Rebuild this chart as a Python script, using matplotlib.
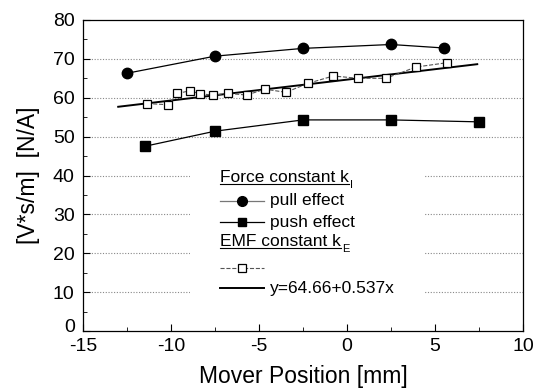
import matplotlib.pyplot as plt
import matplotlib.transforms as mtransforms
from matplotlib.patches import Rectangle
from matplotlib.lines import Line2D

plt.rcParams['font.family'] = ['Liberation Sans', 'DejaVu Sans']
plt.rcParams['axes.unicode_minus'] = False

# data
pull_x = [-12.5, -7.5, -2.5, 2.5, 5.5]
pull_y = [66.3, 70.7, 72.7, 73.7, 72.8]
push_x = [-11.5, -7.5, -2.5, 2.5, 7.5]
push_y = [47.5, 51.4, 54.3, 54.3, 53.8]
emf_x = [-11.35, -10.15, -9.64, -8.92, -8.35, -7.6, -6.74, -5.7, -4.66, -3.47,
         -2.22, -0.78, 0.64, 2.2, 3.92, 5.66]
emf_y = [58.5, 58.2, 61.1, 61.8, 61.0, 60.7, 61.1, 60.7, 62.2, 61.4,
         63.7, 65.6, 65.0, 65.0, 67.9, 69.0]
fit_x = [-13.0, 7.4]
fit_a, fit_b = 64.66, 0.537

fig = plt.figure(figsize=(5.38, 3.9), dpi=100)
ax = fig.add_axes([83 / 538, 59 / 390, 440 / 538, 311 / 390])

for gy in range(10, 80, 10):
    ax.axhline(gy, color='#888888', lw=0.8, ls=(0, (1, 1.5)), zorder=0)

ax.plot(pull_x, pull_y, '-', color='black', lw=0.9, marker='o', ms=7.5, zorder=3)
ax.plot(push_x, push_y, '-', color='black', lw=0.9, marker='s', ms=6.5, zorder=3)
ax.plot(emf_x, emf_y, '--', color='#555555', lw=0.8, marker='s', ms=6.2,
        mfc='white', mec='black', mew=0.9, zorder=3)
ax.plot(fit_x, [fit_a + fit_b * v for v in fit_x], '-', color='black', lw=1.4, zorder=2)

ax.set_xlim(-15, 10)
ax.set_ylim(0, 80)
ax.set_xticks(range(-15, 11, 5))
ax.set_yticks(range(0, 81, 10))
ax.set_xticks([-12.5, -7.5, -2.5, 2.5, 7.5], minor=True)
ax.set_yticks(range(5, 80, 10), minor=True)
ax.tick_params(direction='in', which='both', labelsize=14, top=False, right=False)
ax.tick_params(which='major', length=5)
ax.tick_params(which='minor', length=3)
ax.tick_params(axis='y', which='major', pad=6)
ax.tick_params(axis='x', which='major', pad=5)
for s in ax.spines.values():
    s.set_linewidth(0.9)
ax.set_xlabel('Mover Position [mm]', fontsize=16.5, labelpad=7)
ax.set_ylabel('[V*s/m]  [N/A]', fontsize=16.5, labelpad=9)

# the "0" on the y axis sits a little higher, clear of "-15"
zero_lbl = ax.get_yticklabels()[0]
zero_lbl.set_transform(zero_lbl.get_transform() +
                       mtransforms.ScaledTranslation(0, 6 / 100, fig.dpi_scale_trans))


# manual legend in pixel coordinates of the figure
def ax_xy(px, py):
    return (px - 83) / 440, (331 - py) / 311


tr = ax.transAxes
x0, y0 = ax_xy(190, 310)
x1, y1 = ax_xy(425, 165)
ax.add_patch(Rectangle((x0, y0), x1 - x0, y1 - y0, transform=tr,
                       facecolor='white', edgecolor='none', zorder=4))

fs = 12.5
hx0, hx1 = ax_xy(220, 0)[0], ax_xy(264, 0)[0]
hm = (hx0 + hx1) / 2
tx = ax_xy(270, 0)[0]
tx0 = ax_xy(220, 0)[0]
headers = []

_, ty = ax_xy(0, 182)
headers.append((ax.text(tx0, ty, 'Force constant k', transform=tr, fontsize=fs,
                        va='baseline', zorder=5), 'I'))
_, ty = ax_xy(0, 201)
ax.add_line(Line2D([hx0, hx1], [ty, ty], transform=tr, color='#777777', lw=0.9, zorder=5))
ax.add_line(Line2D([hm], [ty], transform=tr, marker='o', ms=7, color='black', zorder=5))
ax.text(tx, ty, 'pull effect', transform=tr, fontsize=fs, va='center', zorder=5)
_, ty = ax_xy(0, 222)
ax.add_line(Line2D([hx0, hx1], [ty, ty], transform=tr, color='black', lw=0.9, zorder=5))
ax.add_line(Line2D([hm], [ty], transform=tr, marker='s', ms=6, color='black', zorder=5))
ax.text(tx, ty, 'push effect', transform=tr, fontsize=fs, va='center', zorder=5)
_, ty = ax_xy(0, 246)
headers.append((ax.text(tx0, ty, 'EMF constant k', transform=tr, fontsize=fs,
                        va='baseline', zorder=5), 'E'))
_, ty = ax_xy(0, 268)
ax.add_line(Line2D([hx0, hx1], [ty, ty], transform=tr, color='#555555', lw=0.8,
                   ls='--', zorder=5))
ax.add_line(Line2D([hm], [ty], transform=tr, marker='s', ms=6, mfc='white', mec='black',
                   mew=0.9, zorder=5))
_, ty = ax_xy(0, 288)
ax.add_line(Line2D([hx0, hx1], [ty, ty], transform=tr, color='black', lw=1.4, zorder=5))
ax.text(tx, ty, 'y=64.66+0.537x', transform=tr, fontsize=fs, va='center', zorder=5)

# underline the headers and add subscripts
fig.canvas.draw()
inv = tr.inverted()
for t, sub in headers:
    bb = t.get_window_extent()
    (bx0, by0), (bx1, by1) = inv.transform([(bb.x0, bb.y0), (bb.x1, bb.y1)])
    base = t.get_position()[1]
    ul = base - 2 / 311
    ax.add_line(Line2D([bx0, bx1], [ul, ul], transform=tr, color='black', lw=0.8, zorder=5))
    ax.text(bx1 + 1 / 440, base - 6 / 311, sub, transform=tr, fontsize=8,
            va='baseline', zorder=5)

fig.savefig('out.png', dpi=100)
